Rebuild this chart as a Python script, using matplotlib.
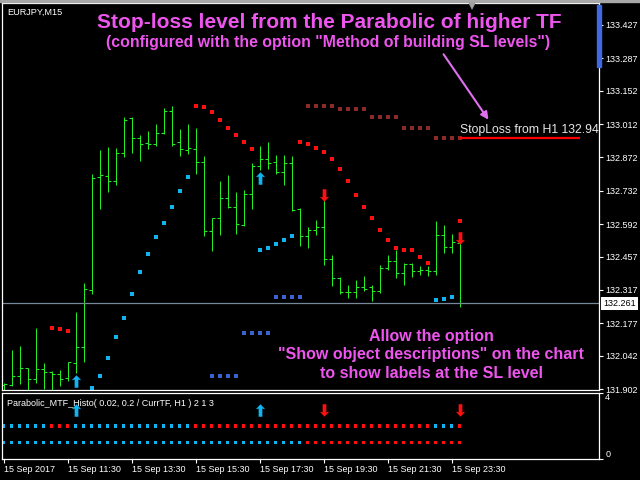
import matplotlib
matplotlib.use("Agg")
import matplotlib.pyplot as plt
import matplotlib.transforms as mtransforms
from matplotlib.patches import Rectangle
from matplotlib.lines import Line2D
from matplotlib.path import Path
import numpy as np

plt.rcParams['font.family'] = ['Liberation Sans', 'DejaVu Sans']

# ---- data (EURJPY M15, 15 Sep 2017 from 09:30) ----
symbol = "EURJPY,M15"
sub_title = "Parabolic_MTF_Histo( 0.02, 0.2 / CurrTF, H1 ) 2 1 3"

opens = [131.919, 131.920, 131.955, 131.989, 131.943, 131.985, 131.972, 131.964,
         131.947, 132.010, 132.077, 132.316, 132.789, 132.793, 132.772, 132.890,
         133.036, 132.952, 132.931, 132.927, 132.973, 133.065, 132.936, 132.902,
         132.906, 132.852, 132.563, 132.617, 132.701, 132.664, 132.588, 132.718,
         132.836, 132.866, 132.853, 132.811, 132.849, 132.656, 132.542, 132.567,
         132.580, 132.446, 132.366, 132.307, 132.307, 132.328, 132.328, 132.311,
         132.408, 132.437, 132.387, 132.426, 132.395, 132.399, 132.395, 132.546,
         132.497, 132.512]
highs = [131.926, 132.066, 132.082, 131.990, 132.158, 132.011, 131.978, 131.982,
         132.014, 132.225, 132.346, 132.803, 132.903, 132.916, 132.912, 133.042,
         133.042, 132.966, 132.983, 133.012, 133.079, 133.088, 132.991, 133.012,
         132.996, 132.878, 132.619, 132.774, 132.799, 132.727, 132.736, 132.849,
         132.920, 132.937, 132.882, 132.882, 132.878, 132.660, 132.581, 132.610,
         132.694, 132.464, 132.373, 132.337, 132.358, 132.376, 132.337, 132.420,
         132.464, 132.484, 132.430, 132.430, 132.416, 132.416, 132.606, 132.589,
         132.551, 132.512]
lows = [131.894, 131.915, 131.923, 131.890, 131.929, 131.903, 131.890, 131.915,
        131.937, 131.970, 132.017, 132.300, 132.657, 132.729, 132.757, 132.875,
        132.892, 132.859, 132.909, 132.921, 132.972, 132.921, 132.880, 132.888,
        132.804, 132.544, 132.482, 132.549, 132.662, 132.553, 132.586, 132.657,
        132.820, 132.825, 132.804, 132.758, 132.649, 132.502, 132.494, 132.549,
        132.423, 132.335, 132.299, 132.285, 132.285, 132.314, 132.272, 132.306,
        132.399, 132.368, 132.339, 132.370, 132.378, 132.374, 132.380, 132.473,
        132.472, 132.247]
closes = [131.922, 131.955, 131.989, 131.943, 131.985, 131.972, 131.964, 131.943,
          132.014, 132.077, 132.320, 132.785, 132.797, 132.772, 132.890, 133.028,
          132.952, 132.927, 132.927, 132.973, 133.065, 132.927, 132.906, 132.911,
          132.852, 132.563, 132.619, 132.701, 132.664, 132.592, 132.718, 132.836,
          132.866, 132.849, 132.811, 132.849, 132.652, 132.542, 132.567, 132.580,
          132.446, 132.366, 132.307, 132.307, 132.328, 132.320, 132.311, 132.408,
          132.437, 132.387, 132.426, 132.395, 132.399, 132.395, 132.546, 132.497,
          132.518, 132.261]

# parabolic SAR of the current timeframe (None = not visible)
sar_m15 = [None, None, None, None, None, None, 132.156, 132.152,
           132.144, None, None, 131.905, 131.955, 132.031, 132.119, 132.198,
           132.299, 132.391, 132.466, 132.538, 132.596, 132.663, 132.730, 132.789,
           133.086, 133.082, 133.061, 133.028, 132.994, 132.965, 132.936, 132.906,
           132.483, 132.492, 132.508, 132.525, 132.542, 132.936, 132.927, 132.911,
           132.894, 132.864, 132.822, 132.772, 132.714, 132.663, 132.617, 132.567,
           132.525, 132.492, 132.483, 132.483, 132.454, 132.429, 132.274, 132.278,
           132.286, 132.605]

# parabolic SAR of H1, one value per hour, shown from bar 26 (4 M15 bars per hour)
h1_first_bar = 26
sar_h1 = [131.955, 132.136, 132.286, 133.086, 133.074, 133.040, 132.994, 132.952]

buy_bars = [9, 32]
buy_prices = [131.936, 132.784]
sell_bars = [40, 57]
sell_prices = [132.715, 132.533]

# histogram rows of the sub window: C = up (blue), R = down (red)
row_curr = "CCCCCC" + "RRR" + "CCCCCCCCCCCCCCC" + "RRRRRRRRRR" + "RRRRRRRRRR" + "RRRRRRRRRR" + "CCC" + "R"
row_h1 = "CCCCCCCCCC" + "CCCCCCCCCC" + "CCCCCCCCCC" + "CCCCCCCC" + "RRRRRRRRRR" + "RRRRRRRRRR"

bid = 132.261
sl_level = 132.955
sl_text = "StopLoss from H1 132.94"

price_ticks = [133.427, 133.287, 133.152, 133.012, 132.872, 132.732,
               132.592, 132.457, 132.317, 132.177, 132.042, 131.902]
time_ticks = [0, 8, 16, 24, 32, 40, 48, 56]
time_labels = ["15 Sep 2017", "15 Sep 11:30", "15 Sep 13:30", "15 Sep 15:30",
               "15 Sep 17:30", "15 Sep 19:30", "15 Sep 21:30", "15 Sep 23:30"]

title1 = "Stop-loss level from the Parabolic of higher TF"
title2 = '(configured with the option "Method of building SL levels")'
note = ['Allow the option', '"Show object descriptions" on the chart',
        'to show labels at the SL level']

# ---- colours ----
bar_col = '#22EE22'
cyan = '#10B4F0'
red = '#FF1010'
dark_blue = '#3A62D0'
brown = '#8B2A2A'
pink = '#EE55EE'

W, H = 640.0, 480.0


def box(x0, y0, x1, y1):
    return [x0 / W, 1 - y1 / H, (x1 - x0) / W, (y1 - y0) / H]


fig = plt.figure(figsize=(6.4, 4.8), dpi=100, facecolor='black')
ax = fig.add_axes(box(2, 3, 599, 390))
ax2 = fig.add_axes(box(2, 393, 599, 459))

# 8 px per bar, bars on pixel centres
x_left = -1.5 / 8
for a in (ax, ax2):
    a.set_facecolor('black')
    for s in a.spines.values():
        s.set_color('white')
        s.set_linewidth(0.9)
    a.set_xlim(x_left, x_left + 597 / 8)

n = len(closes)
x = np.arange(n)

# OHLC bars
ax.vlines(x, lows, highs, color=bar_col, lw=0.72)
ax.hlines(opens, x - 0.375, x, color=bar_col, lw=0.72)
ax.hlines(closes, x, x + 0.375, color=bar_col, lw=0.72)

# current TF parabolic
sar = np.array([np.nan if v is None else v for v in sar_m15])
cl = np.array(closes)
ok = ~np.isnan(sar)
above = ok & (sar > cl)
below = ok & (sar < cl)
ax.plot(x[above], sar[above], 's', color=red, ms=2.3, mew=0)
ax.plot(x[below], sar[below], 's', color=cyan, ms=2.3, mew=0)

# H1 parabolic
h1 = np.full(n, np.nan)
h1[h1_first_bar:] = np.repeat(sar_h1, 4)
h_ok = ~np.isnan(h1)
ax.plot(x[h_ok & (h1 > cl)], h1[h_ok & (h1 > cl)], 's', color=brown, ms=2.3, mew=0)
ax.plot(x[h_ok & (h1 < cl)], h1[h_ok & (h1 < cl)], 's', color=dark_blue, ms=2.3, mew=0)

# arrow markers
up_v = [(0, 1), (0.75, 0.2), (0.3, 0.3), (0.3, -1), (-0.3, -1), (-0.3, 0.3), (-0.75, 0.2), (0, 1)]
codes = [Path.MOVETO] + [Path.LINETO] * 6 + [Path.CLOSEPOLY]
up_arrow = Path(up_v, codes)
down_arrow = Path([(vx, -vy) for vx, vy in up_v], codes)

ax.plot(buy_bars, buy_prices, ls='none', marker=up_arrow, ms=9, color=cyan, mew=0)
ax.plot(sell_bars, sell_prices, ls='none', marker=down_arrow, ms=9, color=red, mew=0)

# bid line + label
ax.axhline(bid, color='#778899', lw=0.9)
trans = mtransforms.blended_transform_factory(fig.transFigure, ax.transData)
ax.text(603 / W, bid, f"{bid:.3f}", transform=trans, fontsize=6.5, color='black',
        va='center', ha='left', clip_on=False, zorder=6,
        bbox=dict(boxstyle='square,pad=0.22', fc='white', ec='none'))

# stop loss level
ax.hlines(sl_level, n - 1, n - 1 + 15, color='red', lw=1.6)
ax.annotate(sl_text, xy=(n - 1, sl_level), xytext=(0, 3), textcoords='offset points',
            color='#E8E8E8', fontsize=8.8, va='baseline', ha='left')

ax.set_ylim(131.898, 133.519)
ax.yaxis.tick_right()
ax.set_yticks(price_ticks)
ax.set_yticklabels([f"{p:.3f}" for p in price_ticks])
ax.tick_params(axis='y', colors='white', labelsize=6.5, length=3, width=0.8, pad=1.5)
ax.tick_params(axis='x', bottom=False, labelbottom=False)

# sub window
row_cols = {'C': cyan, 'R': red}
ax2.scatter(x, np.full(n, 2), c=[row_cols[c] for c in row_curr], marker='s', s=7, linewidths=0)
ax2.scatter(x, np.full(n, 1), c=[row_cols[c] for c in row_h1], marker='s', s=7, linewidths=0)
ax2.plot(buy_bars, [3] * len(buy_bars), ls='none', marker=up_arrow, ms=9, color=cyan, mew=0)
ax2.plot(sell_bars, [3] * len(sell_bars), ls='none', marker=down_arrow, ms=9, color=red, mew=0)
ax2.set_ylim(0, 4)
ax2.yaxis.tick_right()
ax2.set_yticks([0, 4])
ax2.set_yticklabels(['0', '4'])
ax2.tick_params(axis='y', colors='white', labelsize=6.5, length=3, width=0.8, pad=1.5)
for lbl in ax2.get_yticklabels():
    lbl.set_va('bottom' if lbl.get_text() == '0' else 'top')
ax2.set_xticks(time_ticks)
ax2.set_xticklabels(time_labels)
ax2.tick_params(axis='x', colors='white', labelsize=6.5, length=3, width=0.8, pad=1.5)
for lbl in ax2.get_xticklabels():
    lbl.set_ha('left')
ax2.text(7 / W, 1 - 403 / H, sub_title, transform=fig.transFigure, color='white',
         fontsize=6.5, va='center', ha='left')

# captions
fig.text(7 / W, 1 - 12 / H, symbol, color='white', fontsize=6.6, va='center', ha='left')
fig.text(329 / W, 1 - 22 / H, title1, color=pink, fontsize=15, fontweight='bold',
         ha='center', va='center')
fig.text(328 / W, 1 - 43 / H, title2, color=pink, fontsize=11.4, fontweight='bold',
         ha='center', va='center')
for i, line in enumerate(note):
    fig.text(431 / W, 1 - (337 + 18 * i) / H, line, color=pink, fontsize=11.5,
             fontweight='bold', ha='center', va='center')

fig.add_artist(matplotlib.patches.FancyArrowPatch(
    (442 / W, 1 - 52 / H), (490 / W, 1 - 122 / H), transform=fig.transFigure,
    arrowstyle='-|>', mutation_scale=11, color='#E070F0', lw=1.5))

# window decorations
fig.add_artist(Rectangle((0, 1 - 2 / H), 1, 2 / H, color='#A8A8A8', transform=fig.transFigure))
fig.add_artist(Rectangle((597 / W, 1 - 67 / H), 4 / W, 62 / H, color='#4169E1',
                         transform=fig.transFigure, zorder=10))
fig.add_artist(Line2D([472 / W], [1 - 5.5 / H], marker='v', ms=6, color='#A0A0A0',
                      mew=0, transform=fig.transFigure))

fig.savefig('out.png', dpi=100, facecolor='black')
